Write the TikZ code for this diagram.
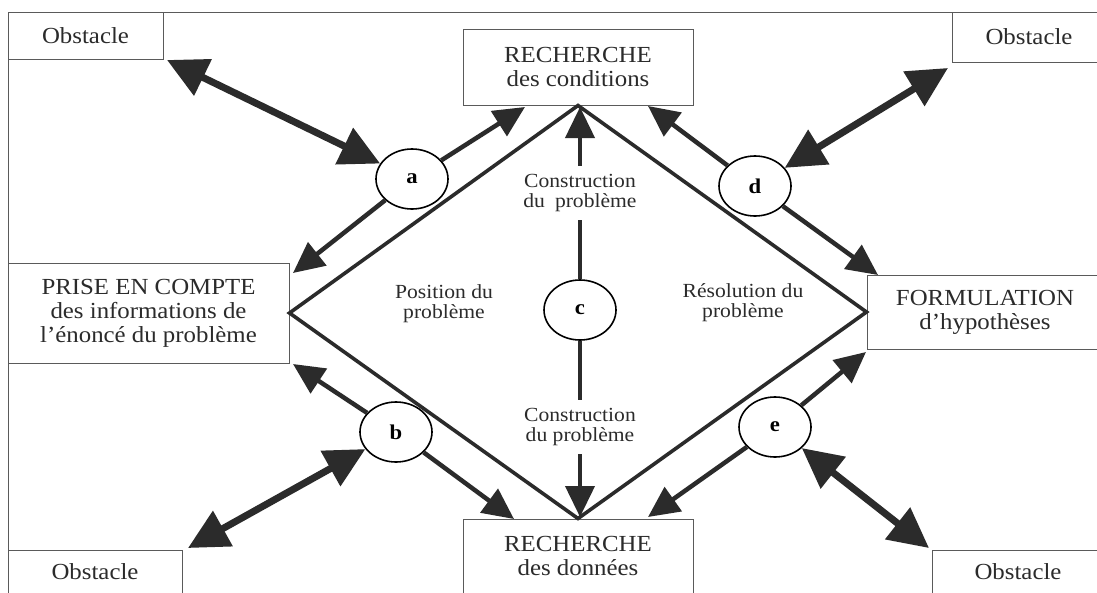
\documentclass[tikz,border=0pt]{standalone}
\usepackage{fontspec}
\setmainfont[FakeStretch=1.08]{Liberation Serif}
\usetikzlibrary{arrows.meta,shapes.geometric}
\definecolor{ink}{HTML}{2B2B2B}
\definecolor{boxline}{HTML}{5A5A5A}
\tikzset{
  boxnode/.style={draw=boxline, line width=1pt, inner sep=0pt, align=center,
    font=\fontsize{23}{24}\selectfont, text=ink},
  oval/.style={ellipse, draw=black, line width=1.6pt, minimum width=72pt,
    minimum height=60pt, inner sep=0pt, font=\bfseries\fontsize{21}{21}\selectfont},
  arr/.style={draw=ink, line width=4.5pt, -{Triangle[length=31pt,width=29pt]}},
  dblarr/.style={draw=ink, line width=7pt,
    {Triangle[length=40pt,width=39pt]}-{Triangle[length=40pt,width=39pt]}},
  lbl/.style={font=\fontsize{20}{20}\selectfont, align=center, text=ink},
  diam/.style={draw=ink, line width=3.6pt, line join=miter},
}
\begin{document}
\begin{tikzpicture}[x=1pt,y=-1pt]
\useasboundingbox (0,0) rectangle (1097,592);
\clip (0,0) rectangle (1097,592);
\fill[white] (0,0) rectangle (1097,592);
\draw[boxline, line width=1pt] (8,600) -- (8,12) -- (1105,12);

% boxes
\node[boxnode, minimum width=155pt, minimum height=47pt] (o1) at (85.5,35.5) {Obstacle};
\node[boxnode, minimum width=154pt, minimum height=50pt] (o2) at (1029,37) {Obstacle};
\node[boxnode, minimum width=230pt, minimum height=76pt] (rc) at (578,67) {RECHERCHE\\des conditions};
\node[boxnode, minimum width=281pt, minimum height=100pt] (pe) at (148.5,313) {PRISE EN COMPTE\\des informations de\\l’énoncé du problème};
\node[boxnode, minimum width=236pt, minimum height=74pt] (fh) at (985,312) {FORMULATION\\d’hypothèses};
\node[boxnode, minimum width=230pt, minimum height=74pt] (rd) at (578,556) {RECHERCHE\\des données};
\node[boxnode, minimum width=174pt, minimum height=43pt] (o3) at (95,571.5) {Obstacle};
\node[boxnode, minimum width=172pt, minimum height=43pt] (o4) at (1018,571.5) {Obstacle};

% diamond
\draw[diam] (rc.south) -- (pe.east) -- (rd.north) -- (fh.west) -- cycle;

% circles
\node[oval] (a) at (412,179) {a};
\node[oval] (b) at (396,432) {b};
\node[oval] (c) at (580,310) {c};
\node[oval] (d) at (755,186) {d};
\node[oval] (e) at (775,427) {e};

% free ends
\coordinate (ta1) at (525,107);
\coordinate (ta2) at (293,273);
\coordinate (tb1) at (293,364);
\coordinate (tb2) at (514,519);
\coordinate (td1) at (648,106);
\coordinate (td2) at (878,275);
\coordinate (te1) at (866,352);
\coordinate (te2) at (648,517);
\coordinate (oa) at (167,60);
\coordinate (od) at (948,68);
\coordinate (ob) at (188,548);
\coordinate (oe) at (929,548);
\coordinate (ctop) at (580,107);
\coordinate (cbot) at (580,517);

% single arrows
\draw[arr] (a) -- (ta1);
\draw[arr] (a) -- (ta2);
\draw[arr] (b) -- (tb1);
\draw[arr] (b) -- (tb2);
\draw[arr] (d) -- (td1);
\draw[arr] (d) -- (td2);
\draw[arr] (e) -- (te1);
\draw[arr] (e) -- (te2);
\draw[arr, line width=4pt] (c) -- (ctop);
\draw[arr, line width=4pt] (c) -- (cbot);

% double arrows
\draw[dblarr] (oa) -- (a);
\draw[dblarr] (od) -- (d);
\draw[dblarr] (ob) -- (b);
\draw[dblarr] (oe) -- (e);

% labels
\node[lbl] (pos) at (444,304) {Position du\\problème};
\node[lbl] (res) at (743,303) {Résolution du\\problème};
\node[lbl, fill=white, inner xsep=2pt, inner ysep=8pt] (ct) at (580,193) {Construction\\du\enspace problème};
\node[lbl, fill=white, inner xsep=2pt, inner ysep=8pt] (cb) at (580,427) {Construction\\du problème};
\end{tikzpicture}
\end{document}
